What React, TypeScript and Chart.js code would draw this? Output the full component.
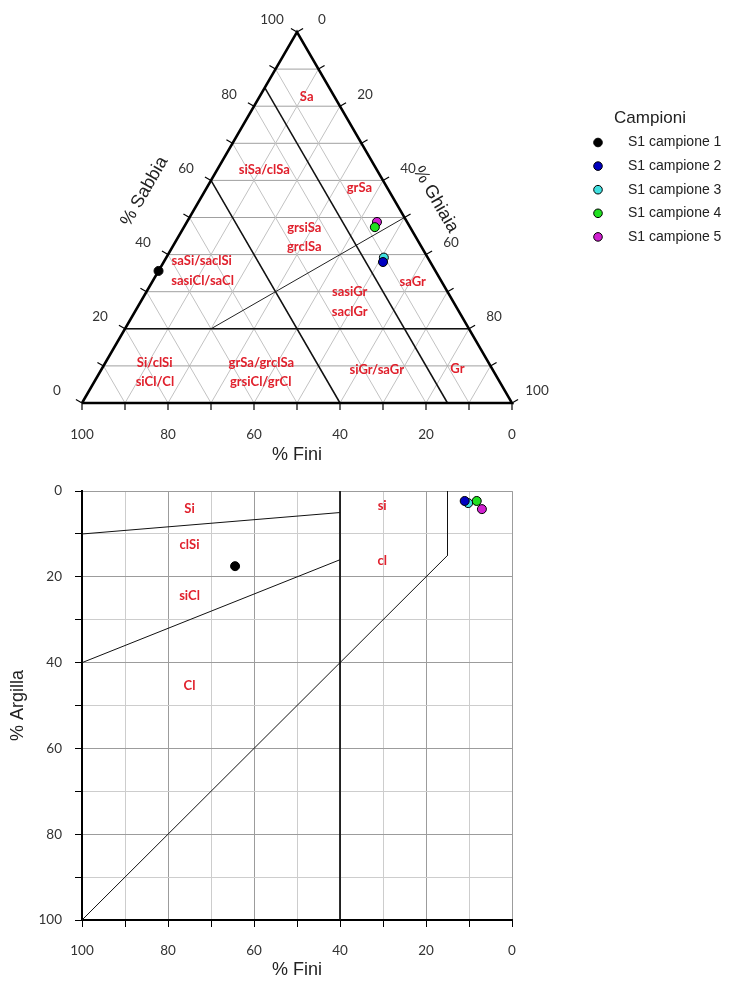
import React, { useEffect, useRef } from "react";
import { Chart, registerables } from "chart.js";

Chart.register(...registerables);

// ---------------- Dati dei campioni ----------------
const campioni = ["S1 campione 1", "S1 campione 2", "S1 campione 3", "S1 campione 4", "S1 campione 5"];
const coloriCampioni = ["#000000", "#0000c0", "#40e0e0", "#20e020", "#d020d0"];
const sabbia = [35.6, 38.0, 39.2, 47.4, 48.8];
const ghiaia = [0.0, 51.0, 50.6, 44.4, 44.2];
const fini = [64.4, 11.0, 10.2, 8.2, 7.0];
const argilla = [17.5, 2.3, 2.8, 2.3, 4.2];

// ---------------- Assi ternari ----------------
const tacche = [0, 10, 20, 30, 40, 50, 60, 70, 80, 90, 100];
const valoriEtichette = [0, 20, 40, 60, 80, 100];

// Confini del diagramma ternario: coppie [sabbia, ghiaia]
const confineS20 = [[20, 0], [20, 80]];
const confineF40 = [[60, 0], [0, 60]];
const confineF15 = [[85, 0], [0, 85]];
const confineSG = [[20, 20], [50, 50]];

// Zone ternarie (nome, sabbia, ghiaia)
const nomiZone = ["Sa", "siSa/clSa", "grSa", "grsiSa", "grclSa", "saSi/saclSi", "sasiCl/saCl", "sasiGr", "saclGr", "saGr", "Si/clSi", "siCl/Cl", "grSa/grclSa", "grsiCl/grCl", "siGr/saGr", "Gr"];
const zoneSabbia = [82.5, 62.8, 58.0, 47.2, 42.0, 38.3, 32.9, 29.9, 24.5, 32.6, 10.8, 5.7, 10.8, 5.7, 8.9, 9.2];
const zoneGhiaia = [11.0, 11.0, 35.5, 28.1, 30.7, 8.7, 11.6, 47.3, 50.0, 60.6, 11.5, 14.1, 36.3, 38.7, 64.1, 82.7];

// ---------------- Diagramma Fini / Argilla ----------------
const confineSi = [[100, 10], [40, 5]];
const confineCl = [[100, 40], [40, 16]];
const confine40 = [[40, 0], [40, 100]];
const confineDiag = [[15, 0], [15, 15], [100, 100]];
const nomiClassi = ["Si", "clSi", "siCl", "Cl", "si", "cl"];
const classiFini = [75, 75, 75, 75, 30.2, 30.2];
const classiArgilla = [4.2, 12.6, 24.5, 45.5, 3.5, 16.3];

const H = Math.sqrt(3) / 2;
const toXY = (s: number, g: number) => ({ x: g + s / 2, y: s * H });

const ROSSO = "#e0202c";

function lineDs(pts: { x: number; y: number }[], color: string, width: number, order: number) {
  return {
    data: pts,
    showLine: true,
    borderColor: color,
    borderWidth: width,
    pointRadius: 0,
    pointHoverRadius: 0,
    fill: false,
    clip: false as any,
    order,
    borderJoinStyle: "miter" as const,
    isLine: true,
  };
}

export default function App() {
  const topRef = useRef<HTMLCanvasElement>(null);
  const botRef = useRef<HTMLCanvasElement>(null);

  useEffect(() => {
    // ---------- Ternario ----------
    const ds: any[] = [];
    campioni.forEach((nome, i) => {
      ds.push({
        label: nome,
        data: [toXY(sabbia[i], ghiaia[i])],
        backgroundColor: coloriCampioni[i],
        borderColor: "#000",
        borderWidth: 1,
        pointRadius: 4.5,
        clip: false,
        order: 0,
        isSample: true,
      });
    });
    ds.push(lineDs([toXY(0, 0), toXY(0, 100), toXY(100, 0), toXY(0, 0)], "#000", 2.5, 1));
    [confineS20, confineF40, confineF15].forEach((c) =>
      ds.push(lineDs(c.map((p) => toXY(p[0], p[1])), "#111", 1.5, 2))
    );
    ds.push(lineDs(confineSG.map((p) => toXY(p[0], p[1])), "#222", 1, 2));
    for (let k = 10; k <= 90; k += 10) {
      ds.push(lineDs([toXY(k, 0), toXY(k, 100 - k)], "#a0a0a0", 1, 3));
      ds.push(lineDs([toXY(0, k), toXY(100 - k, k)], "#c2c2c2", 1, 3));
      ds.push(lineDs([toXY(0, 100 - k), toXY(100 - k, 0)], "#c2c2c2", 1, 3));
    }

    const ternPlugin = {
      id: "ternario",
      afterDatasetsDraw(chart: any) {
        const ctx = chart.ctx;
        const xs = chart.scales.x;
        const ys = chart.scales.y;
        const P = (s: number, g: number) => {
          const p = toXY(s, g);
          return [xs.getPixelForValue(p.x), ys.getPixelForValue(p.y)];
        };
        const nL = [-Math.sqrt(3) / 2, -0.5];
        const nR = [Math.sqrt(3) / 2, -0.5];
        ctx.save();
        ctx.strokeStyle = "#000";
        ctx.lineWidth = 1.2;
        const seg = (x1: number, y1: number, x2: number, y2: number) => {
          ctx.beginPath();
          ctx.moveTo(x1, y1);
          ctx.lineTo(x2, y2);
          ctx.stroke();
        };
        for (const v of tacche) {
          let [x, y] = P(v, 0);
          seg(x, y, x + nL[0] * 7, y + nL[1] * 7);
          [x, y] = P(100 - v, v);
          seg(x, y, x + nR[0] * 7, y + nR[1] * 7);
          [x, y] = P(0, 100 - v);
          seg(x, y, x, y + 7);
        }
        ctx.font = "13.5px Lato";
        ctx.fillStyle = "#333";
        ctx.textAlign = "center";
        ctx.textBaseline = "middle";
        for (const v of valoriEtichette) {
          let [x, y] = P(v, 0);
          ctx.fillText(String(v), x - 25, y - 12);
          [x, y] = P(100 - v, v);
          ctx.fillText(String(v), x + 25, y - 12);
          [x, y] = P(0, 100 - v);
          ctx.fillText(String(v), x, y + 32);
        }
        // titoli assi
        ctx.font = "18px 'Liberation Sans'";
        ctx.fillStyle = "#222";
        let [tx, ty] = P(50, 0);
        ctx.save();
        ctx.translate(tx + nL[0] * 52, ty + nL[1] * 52);
        ctx.rotate(-Math.PI / 3);
        ctx.fillText("% Sabbia", 0, 0);
        ctx.restore();
        [tx, ty] = P(50, 50);
        ctx.save();
        ctx.translate(tx + nR[0] * 36, ty + nR[1] * 36);
        ctx.rotate(Math.PI / 3);
        ctx.fillText("% Ghiaia", 0, 0);
        ctx.restore();
        [tx, ty] = P(0, 50);
        ctx.fillText("% Fini", tx, ty + 52);
        // zone
        ctx.font = "bold 13px Lato";
        ctx.fillStyle = ROSSO;
        nomiZone.forEach((n, i) => {
          const [x, y] = P(zoneSabbia[i], zoneGhiaia[i]);
          ctx.fillText(n, x, y);
        });
        ctx.restore();
      },
      afterDraw(chart: any) {
        const ctx = chart.ctx;
        ctx.save();
        ctx.textBaseline = "middle";
        ctx.textAlign = "center";
        ctx.fillStyle = "#222";
        ctx.font = "17px 'Liberation Sans'";
        ctx.fillText("Campioni", 650, 118);
        ctx.font = "14px 'Liberation Sans'";
        ctx.textAlign = "left";
        const samples = chart.data.datasets.filter((d: any) => d.isSample);
        samples.forEach((d: any, i: number) => {
          const y = 142.5 + i * 23.6;
          ctx.beginPath();
          ctx.arc(598, y, 4.3, 0, Math.PI * 2);
          ctx.fillStyle = d.backgroundColor;
          ctx.fill();
          ctx.lineWidth = 1;
          ctx.strokeStyle = "#000";
          ctx.stroke();
          ctx.fillStyle = "#222";
          ctx.fillText(d.label, 628, y);
        });
        ctx.restore();
      },
    };

    const c1 = new Chart(topRef.current as HTMLCanvasElement, {
      type: "scatter",
      data: { datasets: ds },
      options: {
        responsive: false,
        animation: false,
        layout: { padding: { left: 82, right: 217, top: 32, bottom: 67 } },
        scales: {
          x: { type: "linear", min: 0, max: 100, display: false },
          y: { type: "linear", min: 0, max: 100 * H, display: false },
        },
        plugins: { legend: { display: false }, tooltip: { enabled: false } },
        events: [],
      } as any,
      plugins: [ternPlugin],
    });

    // ---------- Fini / Argilla ----------
    const ds2: any[] = [];
    campioni.forEach((nome, i) => {
      ds2.push({
        label: nome,
        data: [{ x: fini[i], y: argilla[i] }],
        backgroundColor: coloriCampioni[i],
        borderColor: "#000",
        borderWidth: 1,
        pointRadius: 4.5,
        clip: false,
        order: 0,
      });
    });
    [confineSi, confineCl, confine40, confineDiag].forEach((c) =>
      ds2.push(lineDs(c.map((p) => ({ x: p[0], y: p[1] })), "#111", 1, 1))
    );

    const classPlugin = {
      id: "classi",
      afterDatasetsDraw(chart: any) {
        const ctx = chart.ctx;
        const xs = chart.scales.x;
        const ys = chart.scales.y;
        ctx.save();
        ctx.font = "bold 13px Lato";
        ctx.fillStyle = ROSSO;
        ctx.textAlign = "center";
        ctx.textBaseline = "middle";
        nomiClassi.forEach((n, i) => {
          ctx.fillText(n, xs.getPixelForValue(classiFini[i]), ys.getPixelForValue(classiArgilla[i]));
        });
        ctx.restore();
      },
    };

    const gridColor = (c: any) => (c.tick && c.tick.value % 20 === 0 ? "#9c9c9c" : "#cdcdcd");
    const tickCb = (v: any) => (Number(v) % 20 === 0 ? String(v) : "");

    const c2 = new Chart(botRef.current as HTMLCanvasElement, {
      type: "scatter",
      data: { datasets: ds2 },
      options: {
        responsive: false,
        animation: false,
        layout: { padding: { left: 0, right: 217, top: 21, bottom: 0 } },
        scales: {
          x: {
            type: "linear",
            min: 0,
            max: 100,
            reverse: true,
            afterFit: (s: any) => {
              s.height = 61;
            },
            ticks: {
              stepSize: 10,
              callback: tickCb,
              autoSkip: false,
              maxRotation: 0,
              padding: 16,
              color: "#333",
              font: { family: "Lato", size: 13.5 },
            },
            grid: { color: gridColor, tickColor: "#000", tickLength: 7, lineWidth: 1 },
            border: { color: "#000", width: 2 },
            title: {
              display: true,
              text: "% Fini",
              color: "#222",
              font: { family: "Liberation Sans", size: 18 },
              padding: { top: 0, bottom: 0 },
            },
          },
          y: {
            type: "linear",
            min: 0,
            max: 100,
            reverse: true,
            afterFit: (s: any) => {
              s.width = 82;
            },
            ticks: {
              stepSize: 10,
              callback: tickCb,
              autoSkip: false,
              padding: 13,
              color: "#333",
              font: { family: "Lato", size: 13.5 },
            },
            grid: { color: gridColor, tickColor: "#000", tickLength: 7, lineWidth: 1 },
            border: { color: "#000", width: 2 },
            title: {
              display: true,
              text: "% Argilla",
              color: "#222",
              font: { family: "Liberation Sans", size: 18 },
              padding: { top: 7, bottom: 0 },
            },
          },
        },
        plugins: { legend: { display: false }, tooltip: { enabled: false } },
        events: [],
      } as any,
      plugins: [classPlugin],
    });

    return () => {
      c1.destroy();
      c2.destroy();
    };
  }, []);

  return (
    <div style={{ position: "absolute", left: 0, top: 0, width: 729, height: 981, background: "#fff" }}>
      <canvas ref={topRef} width={729} height={470} style={{ position: "absolute", left: 0, top: 0 }} />
      <canvas ref={botRef} width={729} height={511} style={{ position: "absolute", left: 0, top: 470 }} />
    </div>
  );
}
